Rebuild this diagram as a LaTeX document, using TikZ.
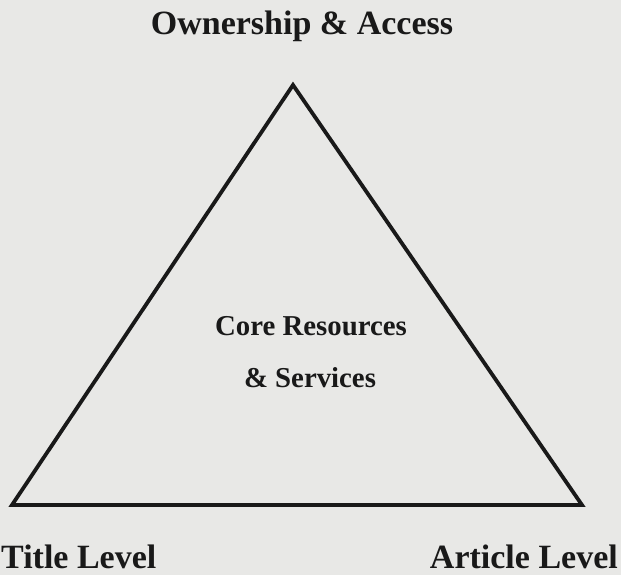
\documentclass[tikz,border=0pt]{standalone}
\usepackage{fontspec}
\setmainfont{Liberation Serif}
\definecolor{paper}{RGB}{232,232,230}
\definecolor{ink}{RGB}{25,25,25}
\begin{document}
\begin{tikzpicture}[x=1pt, y=-1pt, line join=miter, level label/.style={font=\fontsize{34}{40}\selectfont\bfseries, text=ink, inner sep=0pt}, core label/.style={font=\fontsize{28.8}{34}\selectfont\bfseries, text=ink, inner sep=0pt}]
\useasboundingbox (0,0) rectangle (621,575);
\fill[paper] (0,0) rectangle (621,575);
\coordinate (apex) at (293,85);
\coordinate (left) at (12,505);
\coordinate (right) at (582,505);
\draw[ink, line width=3.8pt] (apex) -- (left) -- (right) -- cycle;
\begin{scope}[every node/.style={level label}]
\node[anchor=base] (own) at (302,35) {Ownership \& Access};
\node[anchor=base west] (title) at (1,568) {Title Level};
\node[anchor=base east] (article) at (618,568) {Article Level};
\end{scope}
\node[core label, anchor=base] (core) at (311,335) {Core Resources};
\node[core label, anchor=base] (serv) at (310,387) {\& Services};
\end{tikzpicture}
\end{document}
